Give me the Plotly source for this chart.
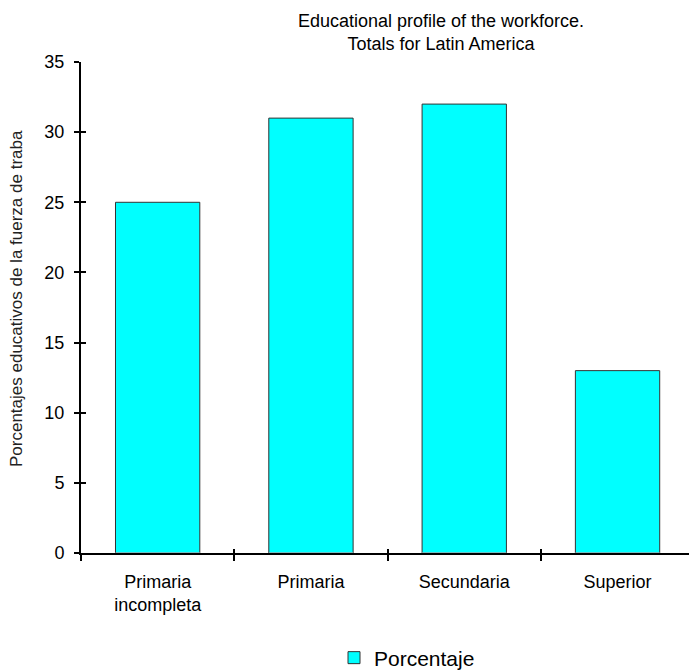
import plotly.graph_objects as go

# Educational profile of the Latin American workforce
categories = ["Primaria<br>incompleta", "Primaria", "Secundaria", "Superior"]
porcentaje = [25, 31, 32, 13]
y_ticks = [0, 5, 10, 15, 20, 25, 30, 35]

FONT = "Liberation Sans, Arial, sans-serif"
W, H = 689, 671
L, R, T, B = 81, 0, 62, 118
plot_w = W - L - R

fig = go.Figure()
fig.add_trace(go.Bar(
    x=categories, y=porcentaje, name="Porcentaje",
    width=0.55,
    marker=dict(color="#00FFFF", line=dict(color="#333333", width=1)),
    showlegend=True,
))

# x range runs a little past the last category so the axis reaches the edge
x_range = [-0.5, -0.5 + plot_w / 153.3]

fig.update_layout(
    width=W, height=H,
    margin=dict(l=L, r=R, t=T, b=B, autoexpand=False),
    paper_bgcolor="white", plot_bgcolor="white",
    font=dict(family=FONT, color="black"),
    title=dict(
        text="Educational profile of the workforce.<br>Totals for Latin America",
        font=dict(size=18, family=FONT, color="black"),
        x=441 / W, xanchor="center", xref="container",
        y=1 - 27 / H, yanchor="middle", yref="container",
    ),
    xaxis=dict(
        type="category", range=x_range,
        showline=True, linecolor="black", linewidth=2,
        ticks="outside", ticklen=6, tickwidth=2, tickcolor="black",
        tickson="boundaries",
        tickfont=dict(size=18, family=FONT, color="black"),
        ticklabelstandoff=11,
        showgrid=False, zeroline=False,
    ),
    yaxis=dict(
        range=[0, 35], tickvals=y_ticks,
        showline=True, linecolor="black", linewidth=2,
        ticks="outside", ticklen=5, tickwidth=2, tickcolor="black",
        tickfont=dict(size=18, family=FONT, color="black"),
        ticklabelstandoff=6,
        showgrid=False, zeroline=False,
    ),
    # companion axes draw the inner half of the crossing tick marks
    xaxis2=dict(
        type="category", overlaying="x", range=x_range,
        categoryarray=categories, categoryorder="array",
        ticks="inside", ticklen=4, tickwidth=2, tickcolor="black",
        tickson="boundaries", showticklabels=False,
        showline=False, showgrid=False, zeroline=False,
    ),
    yaxis2=dict(
        overlaying="y", range=[0, 35], tickvals=y_ticks,
        ticks="inside", ticklen=5, tickwidth=2, tickcolor="black",
        showticklabels=False, showline=False, showgrid=False, zeroline=False,
    ),
    legend=dict(
        orientation="h", xref="container", yref="container",
        x=407 / W, xanchor="center",
        y=1 - 658 / H, yanchor="middle",
        font=dict(size=21, family=FONT, color="black"),
        bgcolor="rgba(0,0,0,0)",
    ),
    bargap=0.45,
    annotations=[dict(
        text="Porcentajes educativos de la fuerza de traba",
        textangle=-90, xref="paper", yref="paper",
        x=(16 - L) / plot_w, y=(553 - 299) / (H - T - B),
        xanchor="center", yanchor="middle",
        showarrow=False, font=dict(size=17, family=FONT, color="#222222"),
    )],
)

# invisible trace binding the companion axes so they are drawn
fig.add_trace(go.Bar(
    x=categories, y=[0, 0, 0, 0], xaxis="x2", yaxis="y2",
    showlegend=False, hoverinfo="skip", marker=dict(color="rgba(0,0,0,0)"),
))

fig.write_html("out.html")
